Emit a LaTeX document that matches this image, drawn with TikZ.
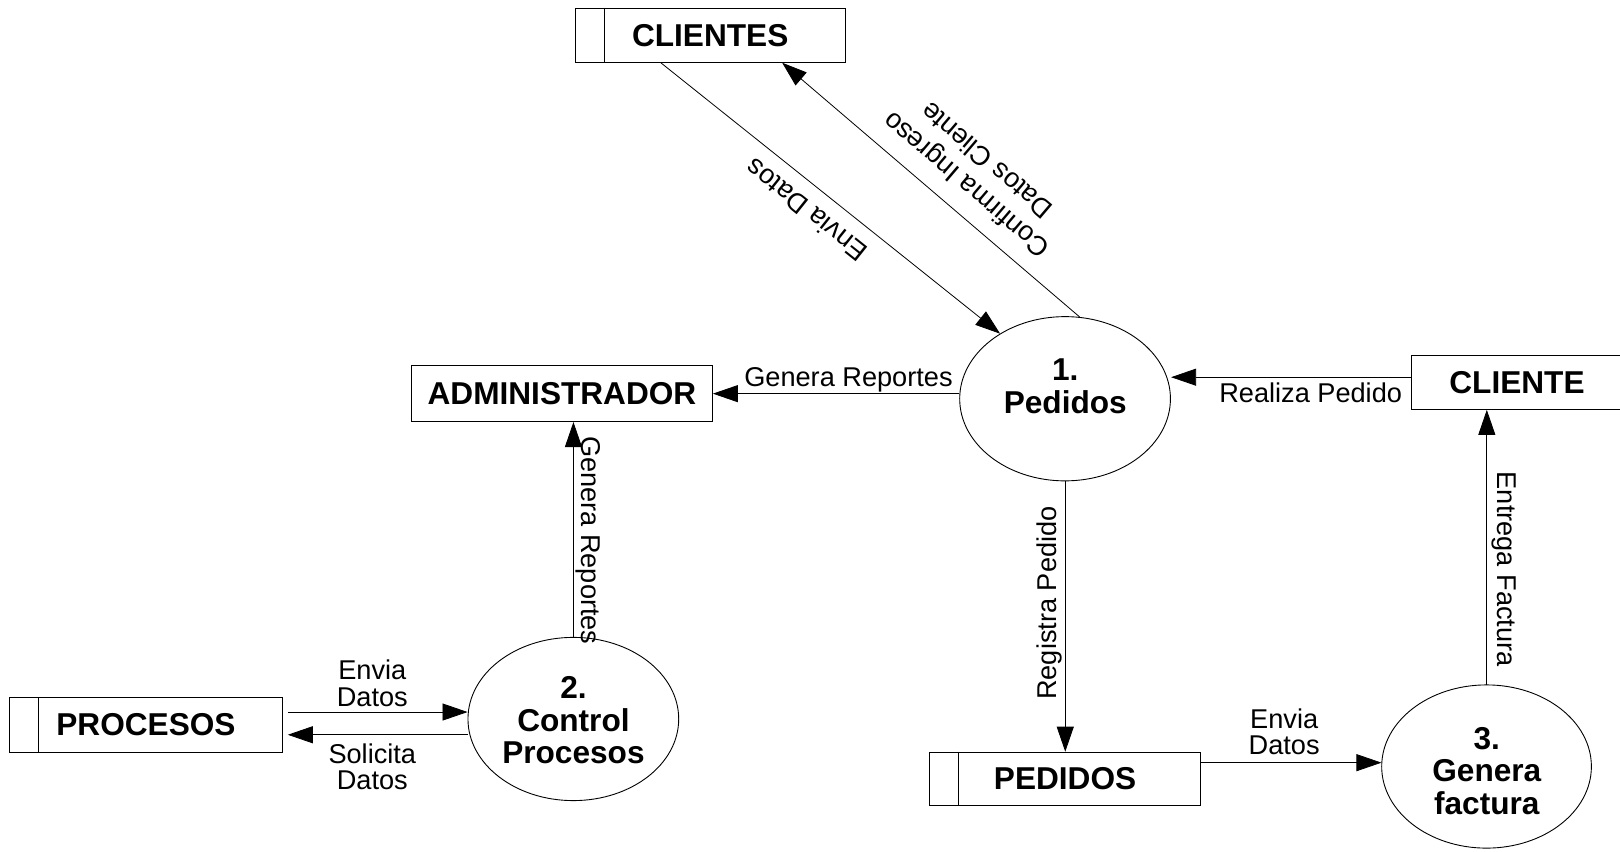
\documentclass[tikz,border=0pt]{standalone}
\usepackage{fontspec}
\setmainfont{Liberation Sans}
\usetikzlibrary{shapes.geometric, arrows.meta, calc}
\begin{document}
\begin{tikzpicture}[x=1pt, y=-1pt, scale=1.033, every node/.style={transform shape},
  ent/.style={draw, line width=0.9pt, inner sep=0pt, font=\bfseries\fontsize{30.6}{32}\selectfont},
  proc/.style={ellipse, draw, line width=0.9pt, inner sep=0pt, align=center},
  proctext/.style={align=center, inner sep=0pt, font=\bfseries\fontsize{30.6}{31.5}\selectfont},
  lbl/.style={font=\fontsize{26.3}{25.5}\selectfont, align=center},
  arr/.style={line width=0.8pt, -{Triangle[length=25pt,width=17pt]}},
  divider/.style={line width=0.9pt}]
\useasboundingbox (0,0) rectangle (1568.2,823.8);

% entities and stores
\node[ent, minimum width=261pt, minimum height=52.5pt] (clientes) at (687.5,34) {CLIENTES};
\draw[divider] ($(clientes.north west)+(28.5,0)$) -- ($(clientes.south west)+(28.5,0)$);
\node[ent, minimum width=291pt, minimum height=54pt] (adm) at (544,381) {ADMINISTRADOR};
\node[ent, minimum width=204pt, minimum height=52.5pt] (cli) at (1468.5,370) {CLIENTE};
\node[ent, minimum width=263.5pt, minimum height=53pt] (procesos) at (141.3,701.5) {PROCESOS};
\draw[divider] ($(procesos.north west)+(28.5,0)$) -- ($(procesos.south west)+(28.5,0)$);
\node[ent, minimum width=262pt, minimum height=52pt] (pedidos) at (1031,754) {PEDIDOS};
\draw[divider] ($(pedidos.north west)+(28.5,0)$) -- ($(pedidos.south west)+(28.5,0)$);

% processes
\node[proc, minimum width=204pt, minimum height=159pt,
      label={[proctext, yshift=12pt]center:{1.\\Pedidos}}] (p1) at (1031,386) {};
\node[proc, minimum width=204pt, minimum height=158pt,
      label={[proctext, yshift=-1pt]center:{2.\\Control\\Procesos}}] (p2) at (555,696) {};
\node[proc, minimum width=203pt, minimum height=158pt,
      label={[proctext, yshift=-4pt]center:{3.\\Genera\\factura}}] (p3) at (1439,742) {};

% flows
\draw[arr] ($(clientes.south)+(-48,0)$) -- node[lbl, rotate=141.4, pos=0.474, anchor=south, inner sep=14pt] {Envia Datos} (p1.135);
\draw[arr] (p1.80) -- node[lbl, rotate=139.6, pos=0.44, anchor=north, inner sep=15pt, font=\fontsize{26.3}{31}\selectfont] {Confirma Ingreso\\Datos Cliente} ($(clientes.south)+(69.5,0)$);
\draw[arr] (p1.west |- adm.east) -- node[lbl, pos=0.45, anchor=south, inner sep=1.5pt] {Genera Reportes} (adm.east);
\coordinate (rp) at ($(cli.west)+(0,-5)$);
\draw[arr] (rp) -- node[lbl, pos=0.42, anchor=north, inner sep=5pt] {Realiza Pedido} (p1.east |- rp);
\draw[arr] (p1.south) -- node[lbl, rotate=90, pos=0.45, anchor=south, inner sep=3pt] {Registra Pedido} (p1.south |- pedidos.north);
\draw[arr] (p3.north) -- node[lbl, rotate=-90, pos=0.42, anchor=south, inner sep=4pt] {Entrega Factura} (p3.north |- cli.south);
\draw[arr] (p2.north) -- node[lbl, rotate=-90, pos=0.45, anchor=south, inner sep=1.5pt] {Genera Reportes} (p2.north |- adm.south);
\coordinate (ed) at ($(procesos.east)+(5,-12.5)$);
\draw[arr] (ed) -- node[lbl, pos=0.47, anchor=south, inner sep=5pt] {Envia\\Datos} (p2.west |- ed);
\coordinate (sd) at ($(procesos.east)+(5,9.5)$);
\draw[arr] (p2.west |- sd) -- node[lbl, pos=0.53, anchor=north, inner sep=8pt] {Solicita\\Datos} (sd);
\coordinate (ed2) at ($(pedidos.east)+(0,-16)$);
\draw[arr] (ed2) -- node[lbl, pos=0.46, anchor=south, inner sep=7pt] {Envia\\Datos} (p3.west |- ed2);
\end{tikzpicture}
\end{document}
